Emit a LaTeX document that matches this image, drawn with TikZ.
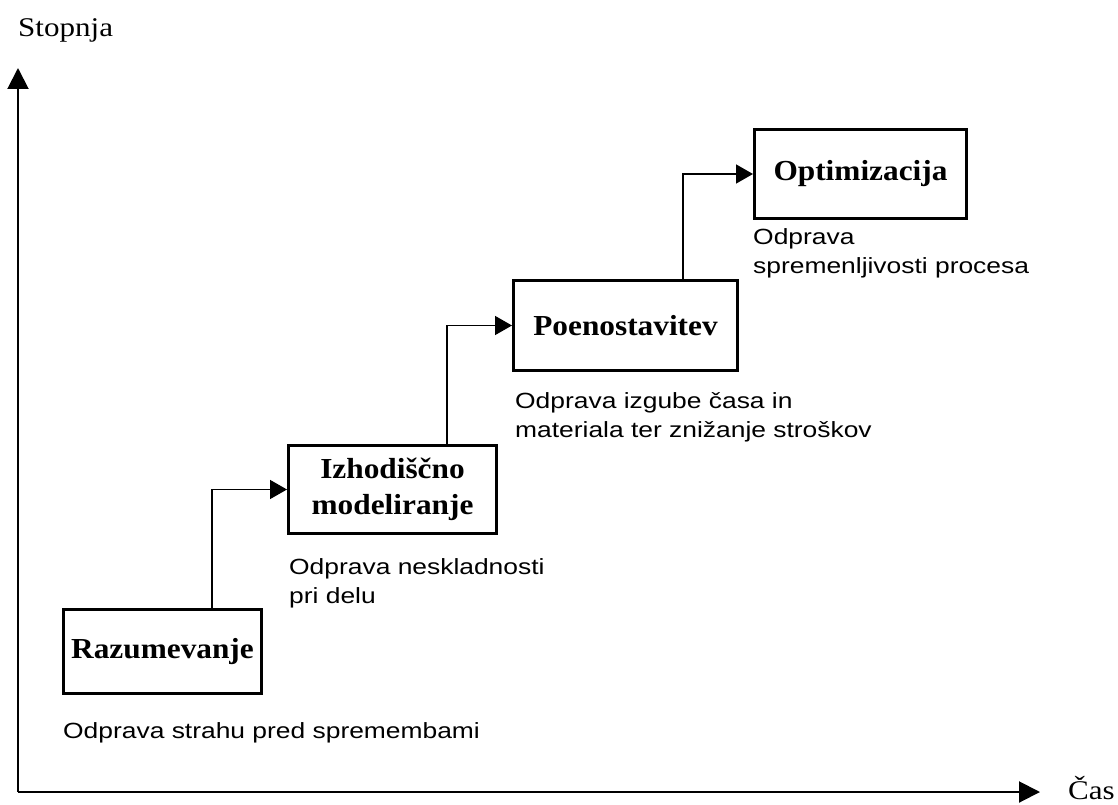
\documentclass[tikz,border=0pt]{standalone}
\usepackage{fontspec}
\usetikzlibrary{arrows.meta}
\setmainfont{Liberation Serif}
\newfontfamily\labelfont[FakeStretch=1.08]{Liberation Serif}
\newfontfamily\notefont[FakeStretch=1.2]{Liberation Sans}
\newfontfamily\axisfont[FakeStretch=1.15]{Liberation Serif}
\begin{document}
\begin{tikzpicture}[x=1pt,y=-1pt,
  stage/.style={draw, line width=3pt, rectangle, inner sep=0pt, align=center,
    font=\labelfont\bfseries\fontsize{29}{36}\selectfont},
  note/.style={anchor=base west, inner sep=0pt, align=left,
    font=\notefont\fontsize{22}{29}\selectfont},
  axislabel/.style={anchor=base west, inner sep=0pt,
    font=\axisfont\fontsize{27}{32}\selectfont},
  link/.style={line width=1.5pt, -{Triangle[length=17pt,width=19pt]}},
  axisline/.style={line width=2pt, -{Triangle[length=21pt,width=21pt]}}]
\useasboundingbox (0,0) rectangle (1118,805);

% axes
\coordinate (origin) at (18,792);
\coordinate (ytip) at (18,68);
\coordinate (xtip) at (1040,792);
\draw[axisline] (origin) -- (ytip);
\draw[axisline] (origin) -- (xtip);
\node[axislabel] (ylab) at (18,37) {Stopnja};
\node[axislabel] (xlab) at (1068,799) {Čas};

% stages
\node[stage, minimum width=198pt, minimum height=84pt] (raz) at (162.5,651.5) {Razumevanje};
\node[stage, minimum width=208pt, minimum height=88pt] (izh) at (392.5,489.5) {Izhodiščno\\modeliranje};
\node[stage, minimum width=224pt, minimum height=90pt] (poe) at (625.5,325.5) {Poenostavitev};
\node[stage, minimum width=212pt, minimum height=89pt] (opt) at (860.5,174) {Optimizacija};

% step connectors
\coordinate (k1) at (212,0);
\coordinate (k2) at (447,0);
\coordinate (k3) at (683,0);
\draw[link] (raz.north -| k1) |- (izh.west);
\draw[link] (izh.north -| k2) |- (poe.west);
\draw[link] (poe.north -| k3) |- (opt.west);

% notes under the stages (base anchor sits on the last line)
\node[note] (n1) at (63,738) {Odprava strahu pred spremembami};
\node[note] (n2) at (289,603) {Odprava neskladnosti\\pri delu};
\node[note] (n3) at (515,437) {Odprava izgube časa in\\materiala ter znižanje stroškov};
\node[note] (n4) at (753,273) {Odprava\\spremenljivosti procesa};
\end{tikzpicture}
\end{document}
